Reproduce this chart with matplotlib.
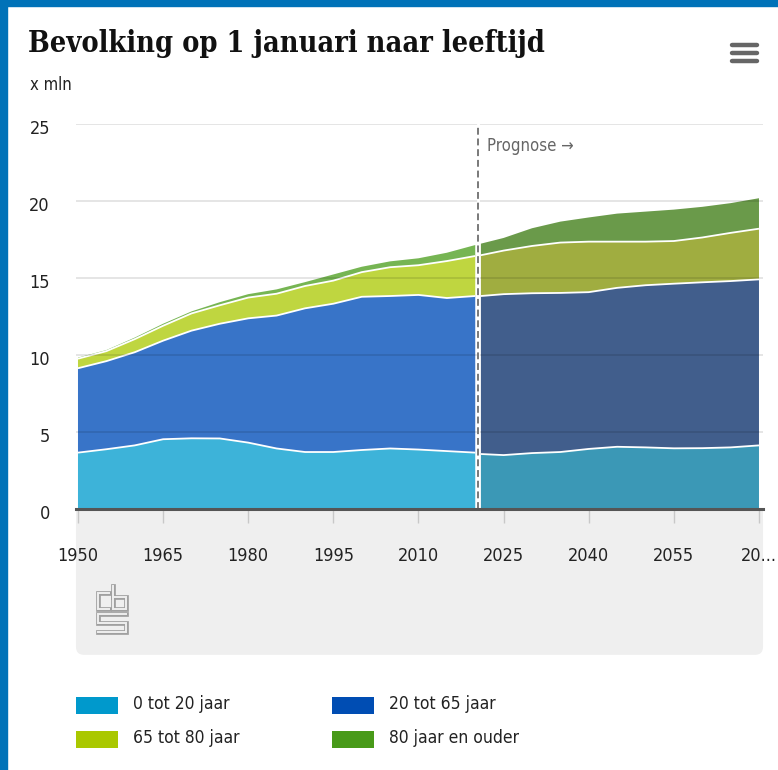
import numpy as np
import matplotlib.pyplot as plt
from matplotlib.patches import Rectangle, FancyBboxPatch
from matplotlib import transforms

W, H = 778, 770

# waarnemingen (x mln), per leeftijdsgroep
years_hist = [1950, 1955, 1960, 1965, 1970, 1975, 1980, 1985, 1990, 1995, 2000, 2005, 2010, 2015, 2020]
age_0_20_hist = [3.68, 3.90, 4.15, 4.55, 4.61, 4.60, 4.33, 3.95, 3.72, 3.72, 3.85, 3.95, 3.88, 3.78, 3.68]
age_20_65_hist = [5.48, 5.72, 6.05, 6.40, 6.99, 7.45, 8.07, 8.63, 9.33, 9.63, 9.95, 9.90, 10.04, 9.94, 10.17]
age_65_80_hist = [0.62, 0.65, 0.85, 0.97, 1.12, 1.20, 1.35, 1.42, 1.45, 1.50, 1.60, 1.87, 1.93, 2.40, 2.60]
age_80_hist = [0.07, 0.07, 0.10, 0.13, 0.13, 0.20, 0.22, 0.28, 0.25, 0.40, 0.35, 0.38, 0.45, 0.54, 0.71]

# prognose
years_prog = [2021, 2025, 2030, 2035, 2040, 2045, 2050, 2055, 2060, 2065, 2070]
age_0_20_prog = [3.59, 3.52, 3.65, 3.72, 3.92, 4.06, 4.02, 3.96, 3.97, 4.02, 4.15]
age_20_65_prog = [10.26, 10.45, 10.38, 10.33, 10.18, 10.32, 10.53, 10.69, 10.77, 10.80, 10.78]
age_65_80_prog = [2.65, 2.83, 3.07, 3.27, 3.28, 3.00, 2.83, 2.77, 2.91, 3.13, 3.29]
age_80_prog = [0.75, 0.82, 1.15, 1.36, 1.57, 1.82, 1.95, 2.04, 1.99, 1.93, 1.98]

labels = ['0 tot 20 jaar', '20 tot 65 jaar', '65 tot 80 jaar', '80 jaar en ouder']
legend_colors = ['#0099CC', '#004DB3', '#AAC800', '#489A19']
hist_colors = ['#3DB3D9', '#3874C8', '#BFD640', '#76B553']
prog_colors = ['#3B98B6', '#415E8C', '#A0AD40', '#6A9A4A']

x_ticks = [1950, 1965, 1980, 1995, 2010, 2025, 2040, 2055, 2070]
x_ticklabels = ['1950', '1965', '1980', '1995', '2010', '2025', '2040', '2055', '20...']
y_ticks = [0, 5, 10, 15, 20, 25]
prognose_start = 2020.5

SANS = 'DejaVu Sans'
PANEL = '#EFEFEF'


def fx(px):
    return px / W


def fy(py):
    return 1 - py / H


fig = plt.figure(figsize=(W / 100, H / 100), dpi=100)
fig.patch.set_facecolor('white')

# blauwe rand links en boven
fig.patches.append(Rectangle((0, 0), fx(7), 1, transform=fig.transFigure, color='#0072B8', zorder=-1))
fig.patches.append(Rectangle((0, fy(6)), 1, fy(0) - fy(6), transform=fig.transFigure, color='#0072B8', zorder=-1))

# grijs vlak onder de x-as (onderhoeken afgerond)
fig.patches.append(FancyBboxPatch((fx(84), fy(647)), fx(671), (647 - 519) / H,
                                  boxstyle='round,pad=0.0103', transform=fig.transFigure,
                                  mutation_aspect=H / W, facecolor=PANEL, edgecolor='none', zorder=-1))
fig.patches.append(Rectangle((fx(76), fy(560)), fx(687), (560 - 509) / H, transform=fig.transFigure,
                             facecolor=PANEL, edgecolor='none', zorder=-1))

ax = fig.add_axes([fx(76), fy(509.3), fx(687), (509.3 - 124.3) / H])
ax.set_zorder(1)
ax.set_facecolor('none')
ax.set_xlim(1949.65, 1949.65 + 687 / 5.675)
ax.set_ylim(0, 25)

# gestapelde vlakken
for yrs, series, cols in [(years_hist, [age_0_20_hist, age_20_65_hist, age_65_80_hist, age_80_hist], hist_colors),
                          (years_prog, [age_0_20_prog, age_20_65_prog, age_65_80_prog, age_80_prog], prog_colors)]:
    ax.stackplot(yrs, *series, colors=cols, linewidth=0, zorder=2)
    cum = np.cumsum(np.array(series), axis=0)
    for k in range(3):
        ax.plot(yrs, cum[k], color='white', lw=1.3, zorder=3, solid_capstyle='butt')

# rasterlijnen
for v in y_ticks[1:]:
    ax.axhline(v, color=(0, 0, 0, 0.12), lw=1.2, zorder=4)

ax.axvline(prognose_start, color='white', lw=2.0, zorder=5)
ax.axvline(prognose_start, color='#555555', lw=1.1, dashes=(4.5, 2.5), zorder=6)
ax.text(2022.1, 23.6, 'Prognose \u2192', color='#666666', fontsize=12, family=SANS,
        fontstretch='condensed', ha='left', va='center')

for s in ['top', 'right', 'left']:
    ax.spines[s].set_visible(False)
ax.spines['bottom'].set_color('#555555')
ax.spines['bottom'].set_linewidth(2.2)
ax.spines['bottom'].set_zorder(7)

ax.set_xticks(x_ticks)
ax.set_xticklabels(x_ticklabels, fontsize=13, family=SANS, fontstretch='condensed', color='#222222')
ax.tick_params(axis='x', direction='out', length=10, width=1, color='#C8C8C8', pad=17)
ax.set_yticks([])

ytrans = transforms.offset_copy(ax.get_yaxis_transform(), fig=fig, y=-5, units='dots')
for v in y_ticks:
    ax.text(-0.038, v, str(v), transform=ytrans, ha='right', va='center', fontsize=13,
            family=SANS, fontstretch='condensed', color='#222222')

# titel en eenheid
fig.text(fx(28), fy(44), 'Bevolking op 1 januari naar leeftijd', fontsize=20.7, weight='bold',
         family='DejaVu Serif', fontstretch='condensed', ha='left', va='center', color='#111111')
fig.text(fx(30), fy(85), 'x mln', fontsize=12, family=SANS, fontstretch='condensed',
         ha='left', va='center', color='#222222')

# menu-icoon
for py in [44.5, 52.5, 60.5]:
    fig.add_artist(plt.Line2D([fx(732), fx(757)], [fy(py), fy(py)], color='#666666', lw=3.2,
                              solid_capstyle='round', transform=fig.transFigure))

# cbs-logo
logo_paths = [
    [(109, 593), (98, 593), (98, 609), (109, 609)],
    [(113, 586), (113, 609), (126, 609), (126, 597), (113, 597)],
    [(126, 614), (98, 614), (98, 623), (126, 623), (126, 632), (98, 632)],
]
for path in logo_paths:
    xs = [fx(p[0]) for p in path]
    ys = [fy(p[1]) for p in path]
    fig.add_artist(plt.Line2D(xs, ys, color='#A0A0A0', lw=3.4, transform=fig.transFigure,
                              solid_joinstyle='miter'))
    fig.add_artist(plt.Line2D(xs, ys, color=PANEL, lw=1.4, transform=fig.transFigure,
                              solid_joinstyle='miter'))

# legenda
legend_pos = [(76, 705), (332, 705), (76, 739), (332, 739)]
for (px, py), lab, col in zip(legend_pos, labels, legend_colors):
    fig.patches.append(Rectangle((fx(px), fy(py + 8.5)), fx(42), 17 / H, transform=fig.transFigure,
                                 facecolor=col, edgecolor='none'))
    fig.text(fx(px + 57), fy(py - 1), lab, fontsize=12.5, family=SANS, fontstretch='condensed',
             ha='left', va='center', color='#222222')

fig.savefig('out.png', dpi=100)
